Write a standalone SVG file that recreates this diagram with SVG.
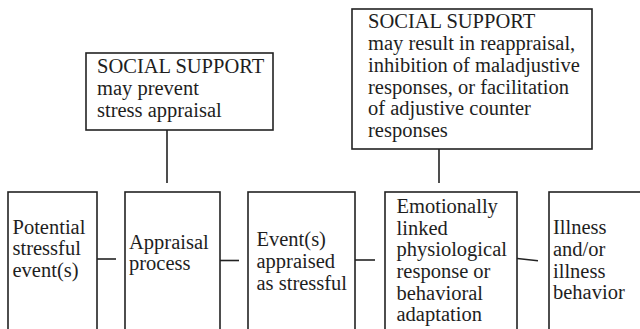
<svg xmlns="http://www.w3.org/2000/svg" width="640" height="329" viewBox="0 0 640 329">
  <style>
    .box { fill: #fff; stroke: #222; stroke-width: 1.6; }
    .link { stroke: #222; stroke-width: 1.6; fill: none; }
    .t { font-family: 'Liberation Serif', 'Times New Roman', Times, 'DejaVu Serif', serif; font-size: 20.5px; fill: #1e1e1e; }
  </style>
  <rect width="640" height="329" fill="#fff"/>

  <g id="connectors">
    <line class="link" x1="167" y1="130" x2="167" y2="183"/>
    <line class="link" x1="439" y1="149" x2="439" y2="183"/>
    <line class="link" x1="94" y1="259" x2="116" y2="259"/>
    <line class="link" x1="217" y1="260.5" x2="239" y2="260.5"/>
    <line class="link" x1="355" y1="260" x2="375" y2="260"/>
    <line class="link" x1="515" y1="258.3" x2="538" y2="260.7"/>
  </g>

  <g id="support-prevent">
    <rect class="box" x="86" y="53" width="187" height="77"/>
    <text class="t"><tspan x="97" y="73">SOCIAL SUPPORT</tspan><tspan x="97" y="95">may prevent</tspan><tspan x="97" y="117">stress appraisal</tspan></text>
  </g>

  <g id="support-reappraisal">
    <rect class="box" x="352" y="9" width="240" height="140"/>
    <text class="t"><tspan x="368" y="28">SOCIAL SUPPORT</tspan><tspan x="368" y="50">may result in reappraisal,</tspan><tspan x="368" y="72">inhibition of maladjustive</tspan><tspan x="368" y="93.5">responses, or facilitation</tspan><tspan x="368" y="115">of adjustive counter</tspan><tspan x="368" y="137">responses</tspan></text>
  </g>

  <g id="stressful-event">
    <rect class="box" x="8" y="192" width="89" height="200"/>
    <text class="t"><tspan x="12.5" y="233.5">Potential</tspan><tspan x="12.5" y="255">stressful</tspan><tspan x="12.5" y="277">event(s)</tspan></text>
  </g>

  <g id="appraisal-process">
    <rect class="box" x="125" y="192" width="95" height="200"/>
    <text class="t"><tspan x="129" y="248.5">Appraisal</tspan><tspan x="129" y="270">process</tspan></text>
  </g>

  <g id="appraised-stressful">
    <rect class="box" x="248" y="192" width="107" height="200"/>
    <text class="t"><tspan x="256.5" y="246">Event(s)</tspan><tspan x="256.5" y="268">appraised</tspan><tspan x="256.5" y="290">as stressful</tspan></text>
  </g>

  <g id="response">
    <rect class="box" x="385" y="192" width="132" height="200"/>
    <text class="t"><tspan x="396.5" y="213">Emotionally</tspan><tspan x="396.5" y="234.5">linked</tspan><tspan x="396.5" y="256">physiological</tspan><tspan x="396.5" y="278">response or</tspan><tspan x="396.5" y="299.5">behavioral</tspan><tspan x="396.5" y="321">adaptation</tspan></text>
  </g>

  <g id="illness">
    <rect class="box" x="549" y="192" width="120" height="200"/>
    <text class="t"><tspan x="553" y="234">Illness</tspan><tspan x="553" y="256">and/or</tspan><tspan x="553" y="277.5">illness</tspan><tspan x="553" y="299">behavior</tspan></text>
  </g>
</svg>
